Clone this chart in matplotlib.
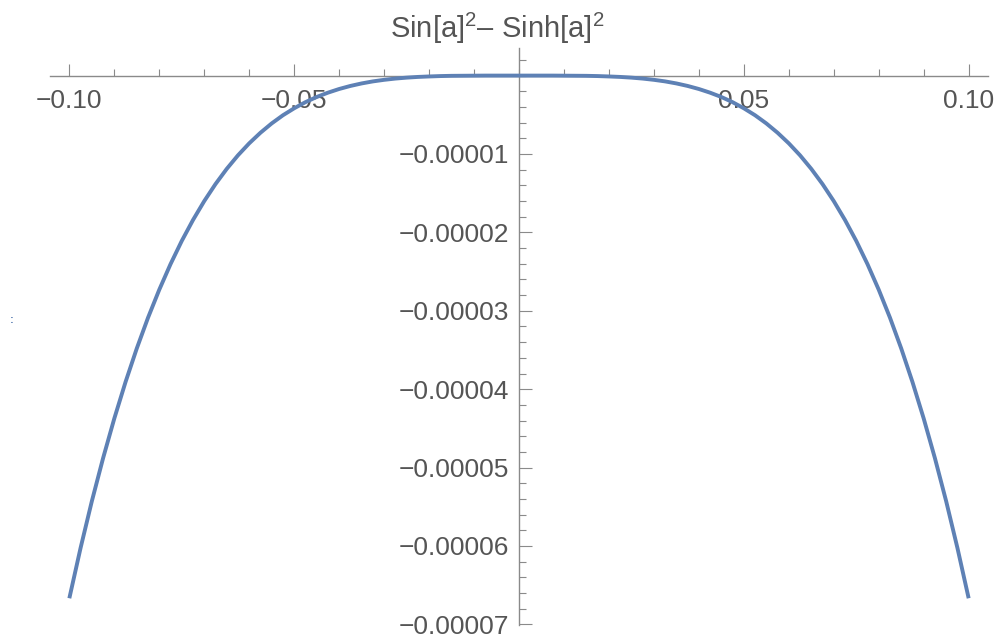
import matplotlib
matplotlib.use("Agg")
import matplotlib.pyplot as plt
from matplotlib.ticker import MultipleLocator, FixedLocator

# ---- data ----
x_values = [
    -0.1000, -0.0975, -0.0950, -0.0925, -0.0900, -0.0875, -0.0850, -0.0825,
    -0.0800, -0.0775, -0.0750, -0.0725, -0.0700, -0.0675, -0.0650, -0.0625,
    -0.0600, -0.0575, -0.0550, -0.0525, -0.0500, -0.0475, -0.0450, -0.0425,
    -0.0400, -0.0375, -0.0350, -0.0325, -0.0300, -0.0275, -0.0250, -0.0225,
    -0.0200, -0.0175, -0.0150, -0.0125, -0.0100, -0.0075, -0.0050, -0.0025,
    0.0000,
    0.0025, 0.0050, 0.0075, 0.0100, 0.0125, 0.0150, 0.0175, 0.0200,
    0.0225, 0.0250, 0.0275, 0.0300, 0.0325, 0.0350, 0.0375, 0.0400,
    0.0425, 0.0450, 0.0475, 0.0500, 0.0525, 0.0550, 0.0575, 0.0600,
    0.0625, 0.0650, 0.0675, 0.0700, 0.0725, 0.0750, 0.0775, 0.0800,
    0.0825, 0.0850, 0.0875, 0.0900, 0.0925, 0.0950, 0.0975, 0.1000,
]
y_values = [
    -6.667e-5, -6.025e-5, -5.430e-5, -4.881e-5, -4.374e-5, -3.908e-5, -3.480e-5, -3.088e-5,
    -2.731e-5, -2.405e-5, -2.109e-5, -1.842e-5, -1.601e-5, -1.384e-5, -1.190e-5, -1.017e-5,
    -0.864e-5, -0.729e-5, -0.610e-5, -0.506e-5, -0.417e-5, -0.339e-5, -0.273e-5, -0.218e-5,
    -0.171e-5, -0.132e-5, -0.100e-5, -0.074e-5, -0.054e-5, -0.038e-5, -0.026e-5, -0.017e-5,
    -0.011e-5, -0.006e-5, -0.003e-5, -0.002e-5, -0.001e-5, 0.000e-5, 0.000e-5, 0.000e-5,
    0.000e-5,
    0.000e-5, 0.000e-5, 0.000e-5, -0.001e-5, -0.002e-5, -0.003e-5, -0.006e-5, -0.011e-5,
    -0.017e-5, -0.026e-5, -0.038e-5, -0.054e-5, -0.074e-5, -0.100e-5, -0.132e-5, -0.171e-5,
    -0.218e-5, -0.273e-5, -0.339e-5, -0.417e-5, -0.506e-5, -0.610e-5, -0.729e-5, -0.864e-5,
    -1.017e-5, -1.190e-5, -1.384e-5, -1.601e-5, -1.842e-5, -2.109e-5, -2.405e-5, -2.731e-5,
    -3.088e-5, -3.480e-5, -3.908e-5, -4.374e-5, -4.881e-5, -5.430e-5, -6.025e-5, -6.667e-5,
]
x_major_ticks = [-0.10, -0.05, 0.05, 0.10]
x_tick_labels = ["\u22120.10", "\u22120.05", "0.05", "0.10"]
y_major_ticks = [-0.00001, -0.00002, -0.00003, -0.00004, -0.00005, -0.00006, -0.00007]
y_tick_labels = ["\u22120.00001", "\u22120.00002", "\u22120.00003", "\u22120.00004",
                 "\u22120.00005", "\u22120.00006", "\u22120.00007"]
title_text = "Sin[a]$^{2}$\u2013 Sinh[a]$^{2}$"

# ---- styling ----
plt.rcParams['font.family'] = ['Liberation Sans', 'DejaVu Sans']
plt.rcParams['mathtext.fontset'] = 'custom'
plt.rcParams['mathtext.rm'] = 'Liberation Sans'
plt.rcParams['mathtext.it'] = 'Liberation Sans'
plt.rcParams['mathtext.bf'] = 'Liberation Sans'

W, H = 997, 642
fig = plt.figure(figsize=(W / 100, H / 100), dpi=100)
left_px, right_px, top_px, bottom_px = 50, 988, 48, 625
ax = fig.add_axes([left_px / W, 1 - bottom_px / H, (right_px - left_px) / W, (bottom_px - top_px) / H])

line_color = '#5E81B5'
axis_color = '#8a8a8a'
label_color = '#555555'

ax.plot(x_values, y_values, color=line_color, lw=2.8, solid_capstyle='butt', clip_on=False)

ax.set_xlim(-0.1043, 0.1043)
ax.set_ylim(-7.008e-5, 3.52e-6)

for s in ['top', 'right']:
    ax.spines[s].set_visible(False)
ax.spines['left'].set_position(('data', 0))
ax.spines['bottom'].set_position(('data', 0))
for s in ['left', 'bottom']:
    ax.spines[s].set_color(axis_color)
    ax.spines[s].set_linewidth(1.0)
    ax.spines[s].set_zorder(1)

ax.xaxis.set_major_locator(FixedLocator(x_major_ticks))
ax.set_xticklabels(x_tick_labels)
ax.xaxis.set_minor_locator(MultipleLocator(0.01))
ax.yaxis.set_major_locator(FixedLocator(y_major_ticks))
ax.set_yticklabels(y_tick_labels)
ax.yaxis.set_minor_locator(MultipleLocator(0.000002))

ax.tick_params(axis='x', which='major', direction='in', length=9, width=0.8,
               color=axis_color, labelcolor=label_color, labelsize=19, pad=10)
ax.tick_params(axis='x', which='minor', direction='in', length=5, width=0.8, color=axis_color)
ax.tick_params(axis='y', which='major', direction='in', length=9, width=0.8,
               color=axis_color, labelcolor=label_color, labelsize=19, pad=7)
ax.tick_params(axis='y', which='minor', direction='in', length=5, width=0.8, color=axis_color)

ax.patch.set_visible(False)

fig.text(497 / W, 1 - 28 / H, title_text, ha='center', va='center',
         fontsize=21, color=label_color)
fig.text(12 / W, 1 - 320 / H, ":", ha='center', va='center', fontsize=8,
         fontweight='bold', color=line_color)

fig.savefig("out.png", dpi=100)
